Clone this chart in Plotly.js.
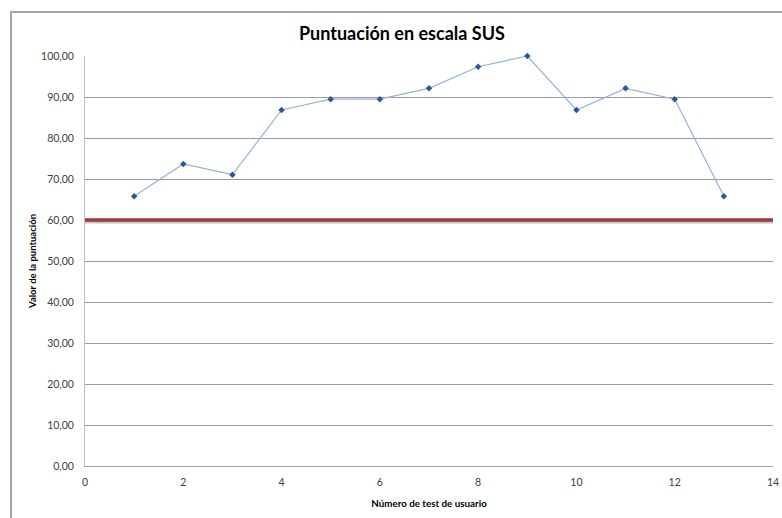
<!DOCTYPE html>
<html>
<head>
<meta charset="utf-8">
<script src="https://cdn.plot.ly/plotly-3.0.1.min.js"></script>
<style>
  html, body { margin: 0; padding: 0; background: #fff; }
  #wrap { position: relative; width: 782px; height: 518px; overflow: hidden; }
  #chart { width: 782px; height: 518px; }
  #frame {
    position: absolute; left: 10px; top: 11px; width: 800px; height: 540px;
    border: 2px solid #a6a6a6; pointer-events: none; box-sizing: border-box;
  }
</style>
</head>
<body>
<div id="wrap">
  <div id="chart"></div>
  <div id="frame"></div>
</div>
<script>
// SUS score per user test
const testNumbers = [1, 2, 3, 4, 5, 6, 7, 8, 9, 10, 11, 12, 13];
const susScores = [65.79, 73.68, 71.05, 86.84, 89.47, 89.47, 92.11, 97.37, 100.0, 86.84, 92.11, 89.47, 65.79];

// Reference threshold line across the whole x range
const thresholdX = [0, 14];
const thresholdValue = 60;

const yRange = [0, 100];
const plotHeightPx = 518 - 56 - 52;
const pxToY = (yRange[1] - yRange[0]) / plotHeightPx;

const thresholdY = thresholdX.map(() => thresholdValue);
const shadowY = thresholdX.map(() => thresholdValue - 2 * pxToY);

const traces = [
  {
    x: thresholdX, y: shadowY, mode: 'lines', hoverinfo: 'skip',
    line: { color: 'rgba(120,120,120,0.45)', width: 3 }, cliponaxis: false
  },
  {
    x: thresholdX, y: thresholdY, mode: 'lines',
    line: { color: '#a0393a', width: 3.5 }, cliponaxis: false
  },
  {
    x: testNumbers, y: susScores, mode: 'lines+markers',
    line: { color: '#95b3d7', width: 1.2 },
    marker: { symbol: 'diamond', size: 5, color: '#2f5597' },
    cliponaxis: false
  }
];

const font = 'Lato, "Open Sans", "Liberation Sans", sans-serif';

const layout = {
  width: 782, height: 518,
  margin: { l: 85, r: 9, t: 56, b: 52 },
  paper_bgcolor: '#ffffff', plot_bgcolor: '#ffffff',
  showlegend: false,
  separators: ',.',
  font: { family: font, size: 10, color: '#404040' },
  title: {
    text: '<b>Puntuación en escala SUS</b>',
    font: { family: font, size: 18, color: '#000' },
    x: 0.514, xanchor: 'center', y: 0.935, yanchor: 'middle'
  },
  xaxis: {
    range: [0, 14], dtick: 2, tick0: 0,
    showgrid: false, zeroline: false,
    showline: true, linecolor: '#a0a0a0', linewidth: 1,
    ticks: '', ticklen: 0, ticklabelstandoff: 6,
    tickfont: { family: font, size: 10.5, color: '#404040' },
    title: {
      text: '<b>Número de test de usuario</b>',
      font: { family: font, size: 9.8, color: '#000' },
      standoff: 13
    }
  },
  yaxis: {
    range: yRange, dtick: 10, tick0: 0,
    tickformat: '.2f',
    showgrid: true, gridcolor: '#9a9a9a', gridwidth: 1,
    zeroline: false,
    showline: true, linecolor: '#c0c0c0', linewidth: 1,
    ticks: '', ticklen: 0, ticklabelstandoff: 8,
    tickfont: { family: font, size: 10.5, color: '#404040' },
    title: {
      text: '<b>Valor de la puntuación</b>',
      font: { family: font, size: 9.5, color: '#000' },
      standoff: 2
    }
  }
};

Plotly.newPlot('chart', traces, layout, { displayModeBar: false, staticPlot: true });
</script>
</body>
</html>
